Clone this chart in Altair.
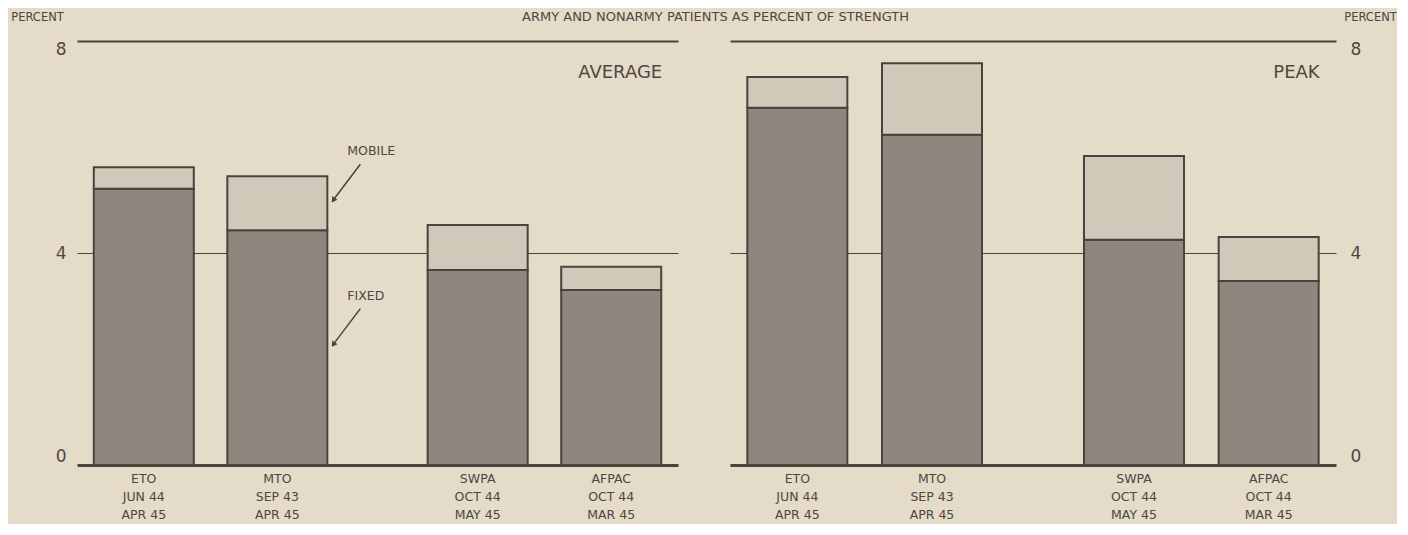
import altair as alt
import pandas as pd

# ---------------- data ----------------
theaters = ["ETO", "MTO", "SWPA", "AFPAC"]
period_start = ["JUN 44", "SEP 43", "OCT 44", "OCT 44"]
period_end = ["APR 45", "APR 45", "MAY 45", "MAR 45"]

avg_fixed = [5.21, 4.43, 3.68, 3.30]
avg_mobile = [0.41, 1.02, 0.85, 0.44]
peak_fixed = [6.74, 6.23, 4.25, 3.47]
peak_mobile = [0.58, 1.35, 1.58, 0.83]

y_ticks = [0, 4, 8]
title_text = "ARMY AND NONARMY PATIENTS AS PERCENT OF STRENGTH"
panel_names = ["AVERAGE", "PEAK"]
series_names = ["FIXED", "MOBILE"]

# ---------------- style ----------------
FONT = "DejaVu Sans"
BG = "#e4dbc9"
INK = "#4e4741"
STROKE = "#4a433d"
C_FIXED = "#8f877d"
C_MOBILE = "#d0c8b9"

keys = [f"{t}|{s}|{e}" for t, s, e in zip(theaters, period_start, period_end)]
x_domain = [keys[0], "gap1", keys[1], "gap2", "gap3", keys[2], "gap4", keys[3]]

x_axis = alt.Axis(
    title=None,
    labelExpr="indexof(datum.value, '|') >= 0 ? split(datum.value, '|') : ''",
    labelAngle=0,
    ticks=False,
    grid=False,
    domainWidth=3,
    domainColor=STROKE,
    labelFont=FONT,
    labelFontSize=12.5,
    labelLineHeight=18,
    labelPadding=7,
    labelColor=INK,
    zindex=1,
)


def y_axis(orient):
    left = orient == "left"
    return alt.Axis(
        orient=orient,
        values=y_ticks,
        title="PERCENT",
        titleAngle=0,
        titleX=-40 if left else 34,
        titleY=-24,
        titleAlign="center",
        titleBaseline="middle",
        titleFont=FONT,
        titleFontSize=11.5,
        titleFontWeight="normal",
        titleColor=INK,
        domain=False,
        ticks=False,
        labelFont=FONT,
        labelFontSize=17,
        labelColor=INK,
        labelPadding=11 if left else 14,
        labelFlush=True,
        grid=True,
        gridColor=STROKE,
        gridWidth={"condition": {"test": "datum.value === 8", "value": 2}, "value": 1.2},
        gridOpacity={"condition": {"test": "datum.value === 0", "value": 0}, "value": 1},
    )


x_scale = alt.Scale(domain=x_domain, paddingInner=0, paddingOuter=0.5)
y_scale = alt.Scale(domain=[0, 8], nice=False)


def panel(name, fixed, mobile, orient, width, annotate):
    X = lambda: alt.X("key:N", scale=x_scale, axis=x_axis, sort=x_domain)
    Y = lambda f, **kw: alt.Y(f, scale=y_scale, axis=y_axis(orient), **kw)

    rows = []
    for k, f, m in zip(keys, fixed, mobile):
        rows.append({"key": k, "type": series_names[0], "value": f, "ord": 0})
        rows.append({"key": k, "type": series_names[1], "value": m, "ord": 1})
    df = pd.DataFrame(rows)

    bars = alt.Chart(df).mark_bar(width=100, stroke=STROKE, strokeWidth=2).encode(
        x=X(),
        y=Y("value:Q", stack="zero"),
        color=alt.Color(
            "type:N",
            scale=alt.Scale(domain=series_names, range=[C_FIXED, C_MOBILE]),
            legend=None,
        ),
        order=alt.Order("ord:Q"),
    )

    lab = alt.Chart(pd.DataFrame({"key": [keys[3]], "label": [name]})).mark_text(
        align="right", baseline="middle", font=FONT, fontSize=18, color=INK, xOffset=51
    ).encode(x=X(), y=alt.value(32), text="label:N")

    layers = [bars, lab]

    if annotate:
        ann = pd.DataFrame(
            {
                "key": [keys[1], keys[1]],
                "label": [series_names[1], series_names[0]],
                "value": [fixed[1] + mobile[1] / 2, fixed[1] / 2],
            }
        )
        base = alt.Chart(ann)
        rule = base.mark_rule(
            color=STROKE, strokeWidth=1.5, xOffset=55, x2Offset=83, yOffset=-2, y2Offset=-39
        ).encode(x=X(), x2="key:N", y=Y("value:Q"), y2="value:Q")
        head = base.mark_point(
            shape="triangle-up", filled=True, size=40, angle=215, color=STROKE,
            opacity=1, xOffset=56, yOffset=-3
        ).encode(x=X(), y=Y("value:Q"))
        txt = base.mark_text(
            align="left", baseline="middle", font=FONT, fontSize=12.5, color=INK,
            xOffset=70, yOffset=-52
        ).encode(x=X(), y=Y("value:Q"), text="label:N")
        layers += [rule, head, txt]

    return alt.layer(*layers).properties(width=width, height=424)


left = panel(panel_names[0], avg_fixed, avg_mobile, "left", 601, True)
right = panel(panel_names[1], peak_fixed, peak_mobile, "right", 606, False)

chart = (
    alt.hconcat(left, right, spacing=52)
    .properties(
        padding={"left": 2, "top": 3, "right": 0, "bottom": 3},
        title=alt.TitleParams(
            title_text, font=FONT, fontSize=13, fontWeight="normal", color=INK,
            anchor="middle", offset=-13, dx=12
        ),
    )
    .configure(background=BG)
    .configure_view(stroke=None)
)

chart.save("out.html", embed_options={"renderer": "svg", "actions": False})
